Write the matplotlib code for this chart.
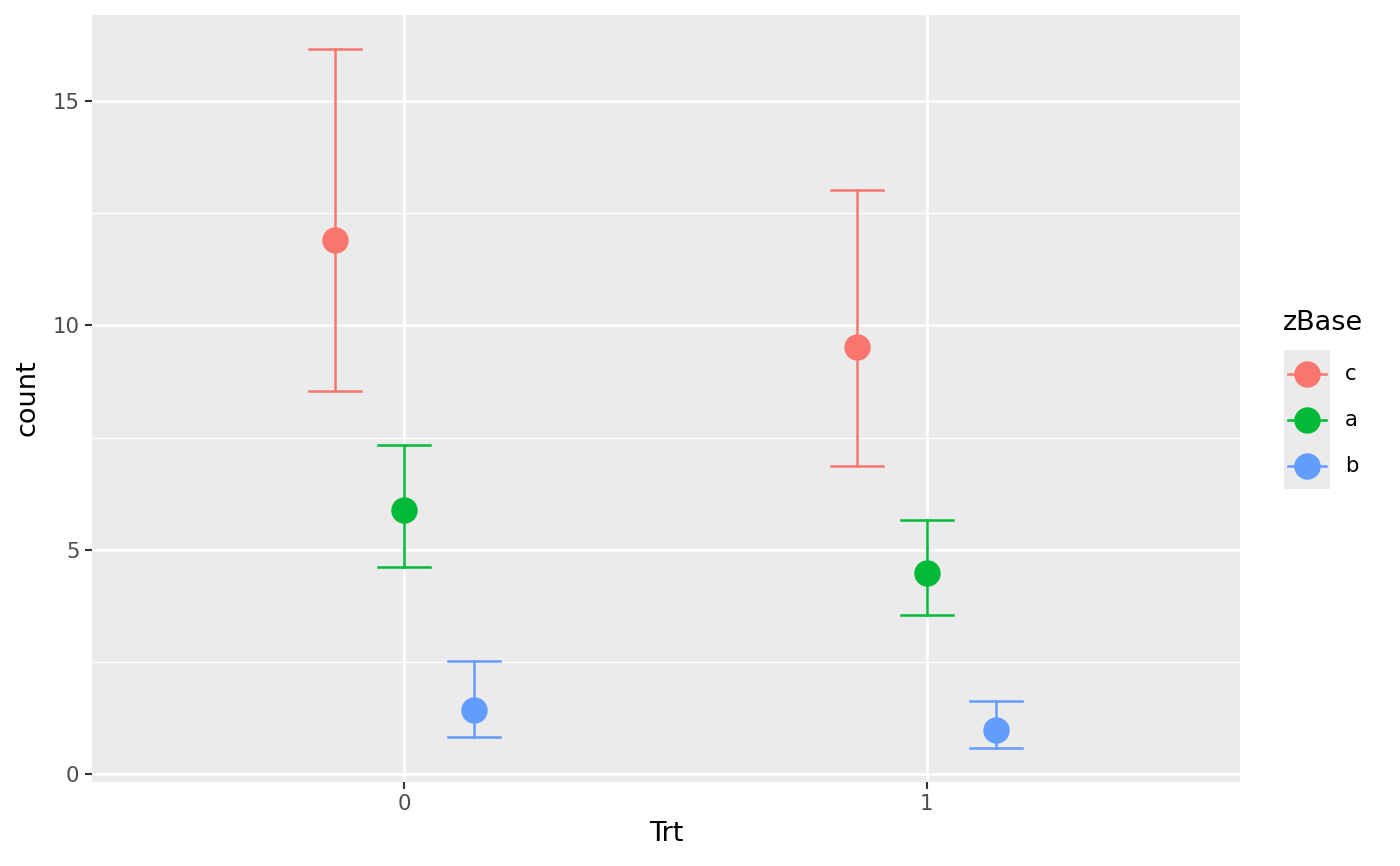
import numpy as np
import matplotlib
matplotlib.use('Agg')
import matplotlib.pyplot as plt
from matplotlib.lines import Line2D
from matplotlib.patches import Rectangle

plt.rcParams['font.family'] = ['DejaVu Sans']

# 数据
trt = [0, 1]
groups = ['c', 'a', 'b']
colors = ['#F8766D', '#00BA38', '#619CFF']
mean = {'c': [11.90, 9.52], 'a': [5.88, 4.48], 'b': [1.43, 0.98]}
upper = {'c': [16.16, 13.02], 'a': [7.33, 5.66], 'b': [2.52, 1.63]}
lower = {'c': [8.54, 6.86], 'a': [4.61, 3.54], 'b': [0.82, 0.58]}
offset = [-0.133, 0.0, 0.133]   # dodge

W, H = 1400, 866
fig = plt.figure(figsize=(W / 100, H / 100), dpi=100, facecolor='w')
ax = fig.add_axes([92 / W, 1 - 782 / H, (1240 - 92) / W, (782 - 15) / H])
ax.set_facecolor('#EBEBEB')

# 网格
for y in [2.5, 7.5, 12.5]:
    ax.axhline(y, color='white', lw=0.9, zorder=0)
for y in [0, 5, 10, 15]:
    ax.axhline(y, color='white', lw=1.8, zorder=0)
for x in trt:
    ax.axvline(x, color='white', lw=1.8, zorder=0)

cap = 0.05
lw = 1.8
for g, c, off in zip(groups, colors, offset):
    xs = np.array(trt) + off
    for xi, m, lo, hi in zip(xs, mean[g], lower[g], upper[g]):
        ax.plot([xi, xi], [lo, hi], color=c, lw=lw, zorder=2)
        ax.plot([xi - cap, xi + cap], [lo, lo], color=c, lw=lw, zorder=2)
        ax.plot([xi - cap, xi + cap], [hi, hi], color=c, lw=lw, zorder=2)
    ax.plot(xs, mean[g], 'o', color=c, ms=19, mec='none', zorder=3)

ax.set_xlim(-0.598, 1.6)
ax.set_ylim(-0.18, 16.92)
ax.set_xticks(trt)
ax.set_xticklabels(['0', '1'])
ax.set_yticks([0, 5, 10, 15])
for s in ax.spines.values():
    s.set_visible(False)
ax.tick_params(axis='both', colors='#333333', labelcolor='#4D4D4D', labelsize=15.3,
               length=5, width=1.5, pad=4)
ax.set_xlabel('Trt', fontsize=19.5)
ax.set_ylabel('count', fontsize=19.5)
ax.xaxis.set_label_coords(666 / W, 1 - 834 / H, transform=fig.transFigure)
ax.yaxis.set_label_coords(28 / W, 1 - 398 / H, transform=fig.transFigure)
ax.xaxis.label.set_va('center')
ax.yaxis.label.set_va('center')

# 图例
def fx(px):
    return px / W

def fy(py):
    return 1 - py / H

fig.text(fx(1283), fy(323), 'zBase', fontsize=19.5, va='center', ha='left')
fig.patches.append(Rectangle((fx(1284), fy(489)), fx(46), (489 - 350) / H,
                             transform=fig.transFigure, facecolor='#EBEBEB', edgecolor='none'))
for i, (g, c) in enumerate(zip(groups, colors)):
    yy = fy(374 + i * 46)
    fig.lines.append(Line2D([fx(1288), fx(1326)], [yy, yy], transform=fig.transFigure,
                            color=c, lw=lw))
    fig.lines.append(Line2D([fx(1307)], [yy], transform=fig.transFigure, marker='o',
                            color=c, ms=19, mec='none'))
    fig.text(fx(1345), yy, g, fontsize=15.3, va='center', ha='left')

plt.savefig('out.png', dpi=100)
